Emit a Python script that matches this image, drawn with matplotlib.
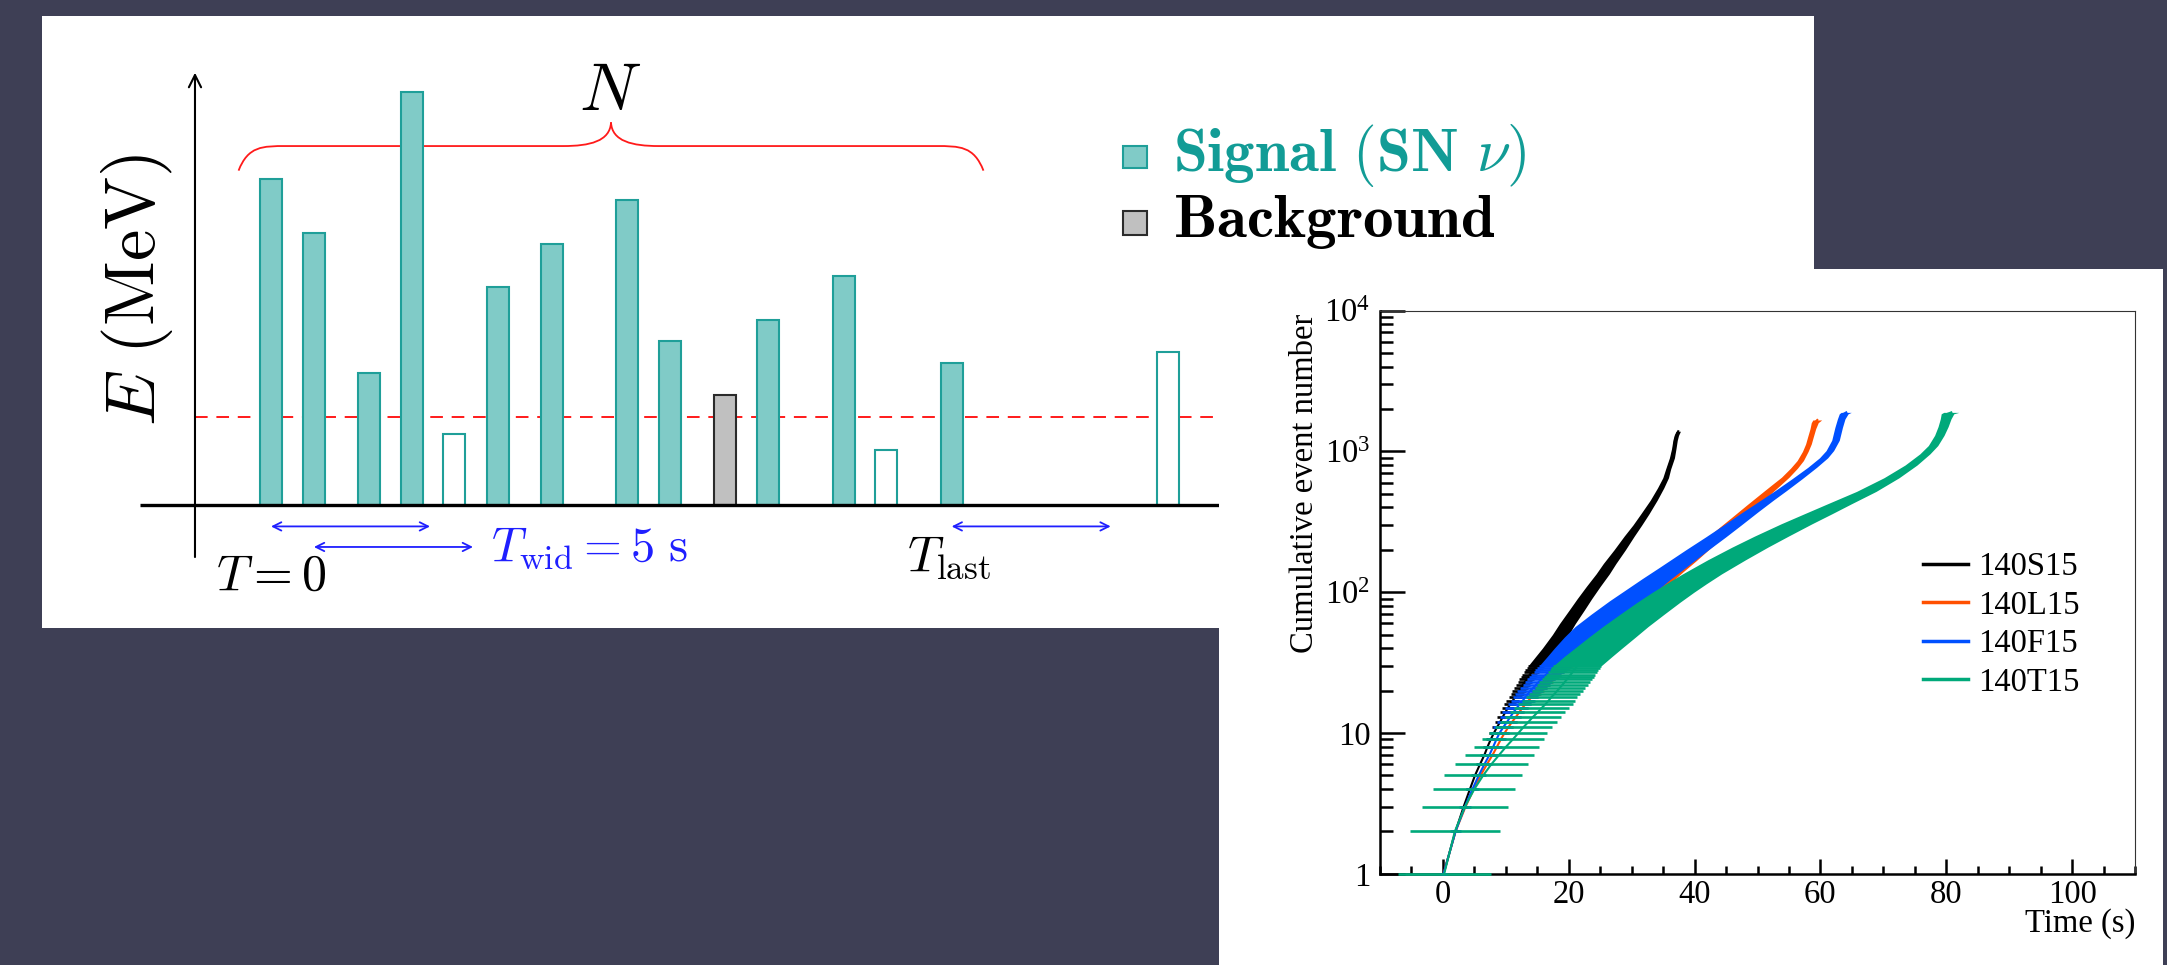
import numpy as np
import matplotlib
matplotlib.use("Agg")
import matplotlib.pyplot as plt
from matplotlib.patches import Rectangle, PathPatch
from matplotlib.path import Path
from matplotlib.lines import Line2D
from matplotlib.ticker import LogLocator, MultipleLocator, NullFormatter

plt.rcParams['font.family'] = ['Liberation Serif', 'DejaVu Serif']
plt.rcParams['mathtext.fontset'] = 'custom'
plt.rcParams['mathtext.rm'] = 'Liberation Serif'
plt.rcParams['mathtext.it'] = 'Liberation Serif:italic'
plt.rcParams['mathtext.bf'] = 'Liberation Serif:bold'

W, H = 2167, 965
BG = '#3e3f55'
TEAL_FILL = '#80cbc7'
TEAL_EDGE = '#1f9f99'
TEAL_TEXT = '#129c96'

# ---- sketch of the trigger: event times (s) and energies (MeV) ----
sig_t = [0.0, 1.35, 3.07, 4.42, 7.14, 8.82, 11.2, 12.55, 15.63, 18.01, 21.4]
sig_e = [37.2, 31.0, 15.0, 47.1, 24.9, 29.8, 34.8, 18.7, 21.1, 26.1, 16.2]
open_t = [5.76, 19.35, 28.2]          # events not counted
open_e = [8.1, 6.2, 17.4]
bkg_t = [14.27]
bkg_e = [12.5]
e_thr = 10.0                          # energy threshold
t_wid = 5.0                           # window width
win_start = [0.0, 1.35, 21.4]
win_level = [-2.5, -4.85, -2.5]

# ---- cumulative event number vs time, four models ----
n_low = list(range(1, 31))

n_s15 = n_low + [35, 40, 50, 60, 75, 90, 110, 135, 160, 200, 250, 300, 360, 450,
                 550, 650, 750, 900, 1050, 1200, 1300, 1390]
t_s15 = [0.1, 2.0, 3.3, 4.3, 5.1, 5.9, 6.6, 7.1, 7.6, 8.1, 8.6, 9.1, 9.5, 9.9, 10.3,
         10.7, 11.1, 11.5, 11.8, 12.1, 12.4, 12.7, 13.0, 13.3, 13.6, 13.8, 14.1, 14.3,
         14.6, 14.8,
         16.0, 17.1, 18.7, 19.8, 21.3, 22.5, 23.9, 25.4, 26.5, 28.1, 29.6, 30.9, 32.1,
         33.5, 34.6, 35.4, 35.8, 36.4, 36.7, 36.9, 37.1, 37.4]
e_s15 = [0.4, 0.5, 0.55, 0.6, 0.65, 0.7, 0.7, 0.75, 0.8, 0.8, 0.85, 0.85, 0.9, 0.9,
         0.95, 0.95, 1.0, 1.0, 1.05, 1.05, 1.1, 1.1, 1.1, 1.15, 1.15, 1.2, 1.2, 1.2,
         1.25, 1.25,
         1.25, 1.3, 1.3, 1.25, 1.2, 1.15, 1.1, 1.05, 1.0, 0.9, 0.8, 0.7, 0.65, 0.55,
         0.5, 0.45, 0.4, 0.4, 0.35, 0.35, 0.35, 0.35]

n_l15 = n_low + [35, 41, 50, 60, 70, 83, 100, 120, 140, 168, 200, 246, 290, 340, 420,
                 500, 580, 655, 760, 861, 1000, 1130, 1260, 1450, 1600, 1672]
t_l15 = [0.1, 2.0, 3.6, 4.9, 6.0, 7.0, 7.9, 8.6, 9.2, 9.8, 10.4, 11.0, 11.6, 12.1,
         12.6, 13.1, 13.6, 14.1, 14.6, 15.0, 15.5, 15.9, 16.4, 16.8, 17.3, 17.7, 18.2,
         18.6, 19.1, 19.5,
         21.2, 23.0, 25.3, 27.3, 29.1, 31.0, 33.1, 35.2, 36.9, 39.0, 40.9, 43.3, 45.1,
         46.9, 49.3, 51.3, 53.0, 54.4, 55.8, 56.8, 57.6, 58.1, 58.4, 58.8, 59.1, 59.5]
e_l15 = [0.3, 0.35, 0.4, 0.45, 0.5, 0.55, 0.6, 0.65, 0.7, 0.75, 0.8, 0.8, 0.85, 0.85,
         0.9, 0.9, 0.95, 0.95, 1.0, 1.0, 1.0, 1.05, 1.05, 1.05, 1.1, 1.1, 1.1, 1.1,
         1.1, 1.1,
         1.15, 1.2, 1.25, 1.3, 1.3, 1.3, 1.3, 1.3, 1.3, 1.3, 1.3, 1.2, 1.1, 1.0, 0.9,
         0.8, 0.7, 0.6, 0.55, 0.5, 0.45, 0.45, 0.45, 0.45, 0.55, 0.7]

n_f15 = n_low + [35, 40, 48, 57, 70, 87, 100, 125, 151, 200, 246, 300, 370, 450, 527,
                 640, 771, 900, 1013, 1200, 1480, 1700, 1850, 1893]
t_f15 = [0.1, 2.0, 3.5, 4.7, 5.7, 6.6, 7.4, 8.0, 8.5, 9.0, 9.6, 10.2, 10.7, 11.2,
         11.7, 12.2, 12.7, 13.1, 13.5, 13.9, 14.4, 14.8, 15.2, 15.6, 16.0, 16.4, 16.8,
         17.1, 17.5, 17.8,
         19.3, 20.6, 22.4, 24.2, 26.6, 29.3, 31.1, 34.0, 36.6, 40.4, 43.3, 46.0, 48.8,
         51.5, 53.7, 56.3, 58.7, 60.5, 61.5, 62.4, 62.9, 63.3, 63.7, 64.1]
e_f15 = [0.6, 0.8, 0.9, 1.0, 1.1, 1.2, 1.3, 1.4, 1.5, 1.55, 1.6, 1.65, 1.7, 1.75,
         1.8, 1.85, 1.9, 1.95, 2.0, 2.05, 2.1, 2.15, 2.2, 2.25, 2.3, 2.35, 2.4, 2.45,
         2.5, 2.5,
         2.7, 2.9, 3.1, 3.2, 3.0, 2.8, 2.6, 2.3, 2.1, 1.8, 1.6, 1.4, 1.2, 1.0, 0.9,
         0.8, 0.7, 0.65, 0.6, 0.6, 0.6, 0.6, 0.7, 0.8]

n_t15 = n_low + [35, 40, 48, 57, 70, 85, 100, 115, 135, 170, 209, 250, 306, 360, 424,
                 520, 650, 800, 960, 1100, 1300, 1500, 1700, 1850, 1893]
t_t15 = [0.2, 1.9, 3.5, 5.0, 6.4, 7.7, 8.95, 10.05, 11.1, 12.0, 12.8, 13.6, 14.3,
         15.05, 15.65, 16.3, 16.8, 17.25, 17.75, 18.2, 18.6, 19.0, 19.35, 19.7, 20.0,
         20.3, 20.6, 20.85, 21.1, 21.35,
         23.1, 24.7, 26.9, 29.0, 31.7, 34.3, 36.6, 38.7, 41.2, 45.1, 48.8, 52.2, 56.2,
         59.6, 63.0, 67.3, 71.3, 74.4, 76.6, 77.9, 78.9, 79.5, 79.9, 80.2, 80.8]
e_t15 = [7.4, 7.1, 6.85, 6.5, 6.2, 5.8, 5.5, 5.15, 4.9, 4.6, 4.5, 4.5, 4.4, 4.35,
         4.35, 4.3, 4.2, 4.1, 4.1, 4.1, 4.0, 4.0, 4.0, 3.95, 3.95, 3.9, 3.9, 3.85,
         3.85, 3.8,
         3.8, 3.75, 3.7, 3.6, 3.5, 3.4, 3.3, 3.2, 3.1, 3.0, 2.85, 2.7, 2.45, 2.2, 1.9,
         1.55, 1.2, 0.95, 0.8, 0.75, 0.75, 0.8, 0.85, 1.0, 1.2]

models = [
    ('140S15', n_s15, t_s15, e_s15, 'black'),
    ('140L15', n_l15, t_l15, e_l15, '#ff5000'),
    ('140F15', n_f15, t_f15, e_f15, '#0050ff'),
    ('140T15', n_t15, t_t15, e_t15, '#00a97a'),
]


def px_box(x0, y0, x1, y1):
    return [x0 / W, 1 - y1 / H, (x1 - x0) / W, (y1 - y0) / H]


def blank(ax):
    ax.set_facecolor('white')
    ax.set_xticks([])
    ax.set_yticks([])
    for s in ax.spines.values():
        s.set_visible(False)


def brace(x0, x1, y0, y1, tip, r):
    xm = 0.5 * (x0 + x1)
    yc = y1 + 0.2 * (tip - y1)
    verts = [(x0, y0), (x0 + 0.2 * r, y1), (x0 + 0.5 * r, y1), (x0 + r, y1),
             (xm - r, y1),
             (xm - 0.45 * r, y1), (xm - 0.02 * r, yc), (xm, tip),
             (xm + 0.02 * r, yc), (xm + 0.45 * r, y1), (xm + r, y1),
             (x1 - r, y1),
             (x1 - 0.5 * r, y1), (x1 - 0.2 * r, y1), (x1, y0)]
    C, L = Path.CURVE4, Path.LINETO
    codes = [Path.MOVETO, C, C, C, L, C, C, C, C, C, C, L, C, C, C]
    return Path(verts, codes)


fig = plt.figure(figsize=(W / 100, H / 100), dpi=100, facecolor=BG)

# ================= left panel: trigger sketch =================
ax1 = fig.add_axes(px_box(42, 15.5, 1813.6, 628))
blank(ax1)
ax1.set_xlim(-7.2, 48.5)
ax1.set_ylim(-14.11, 55.89)

ax1.plot([-2.39, 30.4], [e_thr, e_thr], color='#ff1a1a', lw=1.4,
         linestyle=(0, (6.5, 4.5)), zorder=1)
ax1.add_patch(PathPatch(brace(-1.02, 22.4, 38.16, 40.97, 43.66, 1.5),
                        facecolor='none', edgecolor='#ff1a1a', lw=1.3, zorder=1))

bw = 0.69
ax1.bar(sig_t, sig_e, width=bw, color=TEAL_FILL, edgecolor=TEAL_EDGE, lw=1.5, zorder=2)
ax1.bar(open_t, open_e, width=bw, color='white', edgecolor=TEAL_EDGE, lw=1.5, zorder=2)
ax1.bar(bkg_t, bkg_e, width=bw, color='#c0c0c0', edgecolor='#2b2b2b', lw=1.5, zorder=2)

ax1.plot([-4.12, 40], [0, 0], color='black', lw=2.4, solid_capstyle='butt', zorder=3)
ax1.annotate('', xy=(-2.39, 49.35), xytext=(-2.39, -6.0),
             arrowprops=dict(arrowstyle='->', color='black', lw=1.5,
                             mutation_scale=22, shrinkA=0, shrinkB=0), zorder=3)

for t0, lev in zip(win_start, win_level):
    ax1.annotate('', xy=(t0 + t_wid, lev), xytext=(t0, lev),
                 arrowprops=dict(arrowstyle='<->', color='#1f1fff', lw=1.3,
                                 mutation_scale=15, shrinkA=0, shrinkB=0))

cm = dict(math_fontfamily='cm')
ax1.text(-4.21, 24.5, r'$E\ (\mathrm{MeV})$', rotation=90, ha='center', va='center',
         fontsize=51, **cm)
ax1.text(10.66, 46.97, r'$N$', ha='center', va='center', fontsize=49, **cm)
ax1.text(0.0, -8.34, r'$T=0$', ha='center', va='center', fontsize=36, **cm)
ax1.text(6.92, -4.95, r'$T_{\rm wid}=5\ {\rm s}$', ha='left', va='center',
         fontsize=35, color='#1f1fff', **cm)
ax1.text(21.3, -6.1, r'$T_{\rm last}$', ha='center', va='center', fontsize=36, **cm)

# key for the sketch
ax1.add_patch(Rectangle((26.79, 38.46), 0.76, 2.51, facecolor=TEAL_FILL,
                        edgecolor=TEAL_EDGE, lw=1.5))
ax1.add_patch(Rectangle((26.79, 30.8), 0.76, 2.74, facecolor='#c0c0c0',
                        edgecolor='#2b2b2b', lw=1.5))
ax1.text(28.35, 38.11, r'$\mathbf{Signal\ (SN}\ \nu\mathbf{)}$', ha='left',
         va='baseline', fontsize=44, color=TEAL_TEXT, **cm)
ax1.text(28.35, 30.57, r'$\mathbf{Background}$', ha='left', va='baseline',
         fontsize=44, color='black', **cm)

# ================= right panel: cumulative counts =================
ax_bg = fig.add_axes(px_box(1219, 269, 2163, 965))
blank(ax_bg)

ax = fig.add_axes(px_box(1380, 310.6, 2135, 873.8))
ax.set_facecolor('white')

for i, (name, n, t, e, c) in enumerate(models):
    n, t, e = np.asarray(n, float), np.asarray(t), np.asarray(e)
    z = 3 + 0.1 * i
    low = n <= 30
    ax.hlines(n[low], t[low] - e[low], t[low] + e[low], colors=c, lw=1.9,
              clip_on=False, zorder=z)
    band = n >= 30
    ax.fill_betweenx(n[band], t[band] - e[band], t[band] + e[band], color=c,
                     lw=0, zorder=z)
    ax.plot(t, n, color=c, lw=1.5, zorder=z)

ax.set_yscale('log')
ax.set_xlim(-10, 110)
ax.set_ylim(1, 1e4)
ax.set_xticks([0, 20, 40, 60, 80, 100])
ax.xaxis.set_minor_locator(MultipleLocator(5))
ax.set_yticks([1, 10, 100, 1000, 10000])
ax.set_yticklabels(['1', '10', r'$10^{2}$', r'$10^{3}$', r'$10^{4}$'])
ax.yaxis.set_minor_locator(LogLocator(base=10, subs=np.arange(2, 10), numticks=20))
ax.yaxis.set_minor_formatter(NullFormatter())

ax.tick_params(which='both', direction='in', top=False, right=False,
               width=1.8, labelsize=23.5, color='black')
ax.tick_params(axis='y', which='major', length=18, pad=7)
ax.tick_params(axis='y', which='minor', length=9.5)
ax.tick_params(axis='x', which='major', length=11, pad=4)
ax.tick_params(axis='x', which='minor', length=5.5)
for side in ('left', 'bottom'):
    ax.spines[side].set_linewidth(1.8)
for side in ('top', 'right'):
    ax.spines[side].set_linewidth(0.8)
    ax.spines[side].set_color('#333333')

ax.text(-0.0993, 0.994, 'Cumulative event number', transform=ax.transAxes,
        rotation=90, ha='center', va='top', fontsize=23.5)
ax.text(1.0, -0.089, 'Time (s)', transform=ax.transAxes, ha='right', va='center',
        fontsize=23.5)

handles = [Line2D([], [], color=m[4], lw=2.5) for m in models]
ax.legend(handles, [m[0] for m in models], loc='upper left',
          bbox_to_anchor=(0.7192, 0.572), frameon=False, fontsize=23.5,
          borderpad=0, borderaxespad=0, handlelength=1.38, handletextpad=0.3,
          labelspacing=0.245)

fig.savefig('out.png', dpi=100, facecolor=fig.get_facecolor())
